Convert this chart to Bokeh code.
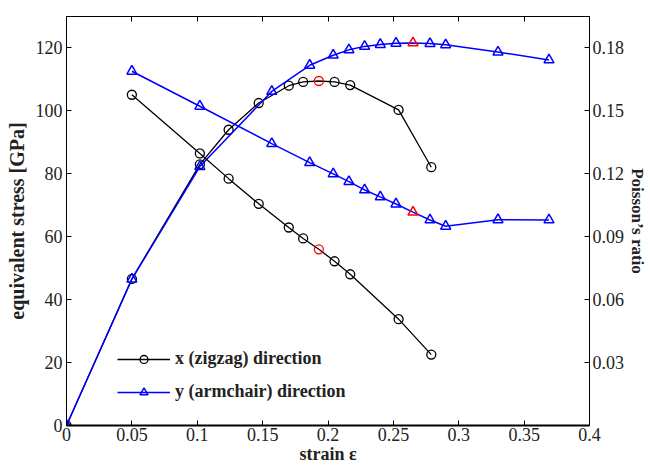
from bokeh.plotting import figure
from bokeh.models import (Range1d, LinearAxis, FixedTicker, CustomJSTickFormatter,
                          Legend, LegendItem, CustomLabelingPolicy)
from bokeh.embed import file_html
from bokeh.resources import INLINE

# ---- data ----
strain_x = [0, 0.05, 0.102, 0.124, 0.147, 0.17, 0.181, 0.193, 0.205, 0.217, 0.254, 0.279]
stress_x = [0, 46.6, 83.0, 94.0, 102.5, 108.0, 109.2, 109.5, 109.2, 108.2, 100.3, 82.1]
strain_nu_x = [0.05, 0.102, 0.124, 0.147, 0.17, 0.181, 0.193, 0.205, 0.217, 0.254, 0.279]
nu_x = [0.1577, 0.1297, 0.1177, 0.1057, 0.0944, 0.0892, 0.0840, 0.0783, 0.0721, 0.0507, 0.0338]
peak_strain_x = 0.193

strain_y = [0, 0.05, 0.102, 0.157, 0.186, 0.204, 0.216, 0.228, 0.240, 0.252, 0.265, 0.278, 0.290, 0.330, 0.369]
stress_y = [0, 46.5, 82.3, 106.2, 114.5, 117.7, 119.4, 120.5, 121.1, 121.5, 121.6, 121.4, 121.0, 118.7, 116.2]
strain_nu_y = [0.05, 0.102, 0.157, 0.186, 0.204, 0.216, 0.228, 0.240, 0.252, 0.265, 0.278, 0.290, 0.330, 0.369]
nu_y = [0.1689, 0.1522, 0.1344, 0.1253, 0.1200, 0.1163, 0.1123, 0.1090, 0.1056, 0.1017, 0.0980, 0.0950, 0.0981, 0.0980]
peak_strain_y = 0.265

x_ticks = [0, 0.05, 0.1, 0.15, 0.2, 0.25, 0.3, 0.35, 0.4]
stress_ticks = [0, 20, 40, 60, 80, 100, 120]
nu_ticks = [0.03, 0.06, 0.09, 0.12, 0.15, 0.18]

series_names = ["x (zigzag) direction", "y (armchair) direction"]

FONT = "Liberation Serif"
TICK_SIZE = "18px"

p = figure(width=650, height=466, output_backend="svg", toolbar_location=None,
           x_range=Range1d(0, 0.4), y_range=Range1d(0, 130),
           min_border_left=66, min_border_right=59, min_border_top=11, min_border_bottom=39)
p.extra_y_ranges = {"nu": Range1d(0, 0.195)}
p.xgrid.visible = False
p.ygrid.visible = False
p.outline_line_color = "black"
p.outline_line_width = 1
p.background_fill_color = "white"
p.border_fill_color = "white"

fmt = CustomJSTickFormatter(code="return String(Math.round(tick*1000)/1000);")

def style_axis(ax, label_size="17px"):
    ax.major_tick_in = 5
    ax.major_tick_out = 0
    ax.minor_tick_in = 0
    ax.minor_tick_out = 0
    ax.axis_line_color = "black"
    ax.major_tick_line_color = "black"
    ax.major_label_text_font = FONT
    ax.major_label_text_font_size = TICK_SIZE
    ax.major_label_text_color = "#222222"
    ax.axis_label_text_font = FONT
    ax.axis_label_text_font_size = label_size
    ax.axis_label_text_font_style = "bold"
    ax.axis_label_text_color = "#222222"

xa = p.xaxis[0]
xa.ticker = FixedTicker(ticks=x_ticks)
xa.formatter = fmt
xa.axis_label = "strain ε"
style_axis(xa, "18px")
xa.axis_line_width = 2
xa.major_label_standoff = 2
xa.axis_label_standoff = 0

ya = p.yaxis[0]
ya.ticker = FixedTicker(ticks=stress_ticks)
ya.formatter = fmt
ya.axis_label = "equivalent stress [GPa]"
style_axis(ya, "20px")
ya.major_label_standoff = 4
ya.axis_label_standoff = 5

ra = LinearAxis(y_range_name="nu", ticker=FixedTicker(ticks=nu_ticks), formatter=fmt,
                axis_label="Poisson’s ratio")
style_axis(ra, "17px")
ra.major_label_standoff = 3
ra.axis_label_standoff = 1
p.add_layout(ra, "right")

ta = LinearAxis(ticker=FixedTicker(ticks=x_ticks))
style_axis(ta)
ta.major_label_standoff = 0
ta.major_label_policy = CustomLabelingPolicy(
    code="for (const i of Array.from(indices)) { indices.unset(i) } return indices")
p.add_layout(ta, "above")

def colors(xs, peak, base):
    return ["red" if abs(v - peak) < 1e-9 else base for v in xs]

# stress curves (left axis)
lx = p.line(strain_x, stress_x, line_color="black", line_width=1.3)
p.scatter(x=strain_x, y=stress_x, marker="circle", size=9, fill_color=None,
          line_color=colors(strain_x, peak_strain_x, "black"), line_width=1.3)
ly = p.line(strain_y, stress_y, line_color="blue", line_width=1.5)
p.scatter(x=strain_y, y=stress_y, marker="triangle", size=10, fill_color=None,
          line_color=colors(strain_y, peak_strain_y, "blue"), line_width=1.5)

# Poisson's ratio curves (right axis)
p.line(strain_nu_x, nu_x, line_color="black", line_width=1.3, y_range_name="nu")
p.scatter(x=strain_nu_x, y=nu_x, marker="circle", size=9, fill_color=None,
          line_color=colors(strain_nu_x, peak_strain_x, "black"), line_width=1.3, y_range_name="nu")
p.line(strain_nu_y, nu_y, line_color="blue", line_width=1.5, y_range_name="nu")
p.scatter(x=strain_nu_y, y=nu_y, marker="triangle", size=10, fill_color=None,
          line_color=colors(strain_nu_y, peak_strain_y, "blue"), line_width=1.5, y_range_name="nu")

# legend glyph renderers (off-range, only drawn in the legend)
lgx = p.scatter(x=[0], y=[-100], marker="circle", size=9, fill_color=None, line_color="black", line_width=1.3)
lgy = p.scatter(x=[0], y=[-100], marker="triangle", size=10, fill_color=None, line_color="blue", line_width=1.5)

legend = Legend(items=[LegendItem(label=series_names[0], renderers=[lx, lgx]),
                       LegendItem(label=series_names[1], renderers=[ly, lgy])],
                location=(51, 23), orientation="vertical",
                border_line_color=None, background_fill_alpha=0,
                padding=0, margin=0, spacing=12,
                glyph_width=53, glyph_height=20, label_height=20, label_standoff=5,
                label_text_font=FONT, label_text_font_size="18px",
                label_text_font_style="bold", label_text_color="#222222")
p.add_layout(legend, "center")

open("out.html", "w").write(file_html(p, INLINE))
